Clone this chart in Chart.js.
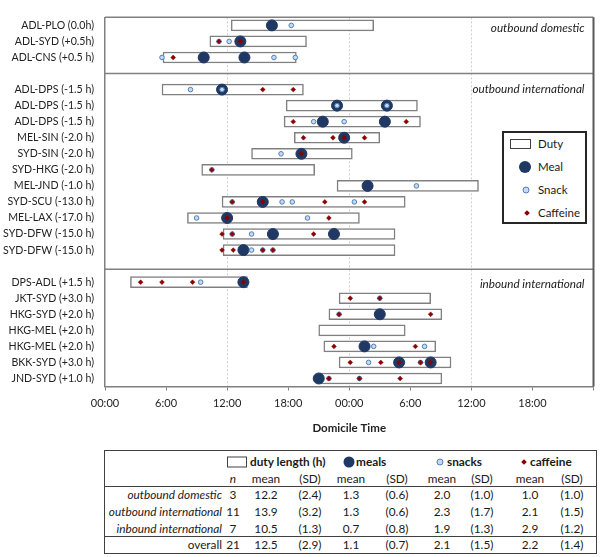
<!DOCTYPE html>
<html>
<head>
<meta charset="utf-8">
<script src="https://cdn.jsdelivr.net/npm/chart.js@4.4.1/dist/chart.umd.min.js"></script>
<style>
  body { margin: 0; background: #fff; font-family: Lato, "Open Sans", sans-serif; color: #1a1a1a; }
  #wrap { position: relative; width: 600px; height: 557px; overflow: hidden; }
  #chart { position: absolute; left: 0; top: 0; }
  .legend { position: absolute; left: 502px; top: 131px; width: 85px; height: 93px; box-sizing: border-box; border: 2px solid #262626; background: #fff; }
  .legend .txt { position: absolute; left: 34px; font-size: 11.5px; transform: translateY(-50%); line-height: 1; }
  .ico { position: absolute; box-sizing: border-box; transform: translate(-50%, -50%); }
  .ico.duty { width: 21px; height: 10px; border: 1.5px solid #404040; background: #fff; transform: translateY(-50%); }
  .ico.meal { border-radius: 50%; background: #1f3864; }
  .ico.snack { border-radius: 50%; background: #c6d9f1; border: 1.2px solid #4f81bd; }
  .ico.caff { background: #8b0000; transform: translate(-50%, -50%) rotate(45deg); }
  .cell { position: absolute; font-size: 11.8px; line-height: 1; white-space: nowrap; }
  .c { transform: translate(-50%, -50%); }
  .r { transform: translateY(-50%); text-align: right; }
  .l { transform: translateY(-50%); }
  .tbox { position: absolute; left: 104px; top: 450px; width: 493px; height: 104px; box-sizing: border-box; border: 1.5px solid #404040; }
  .hline { position: absolute; left: 104px; width: 493px; height: 0; border-top: 1.5px solid #404040; }
</style>
</head>
<body>
<div id="wrap">
  <canvas id="chart" width="600" height="440"></canvas>
  <div class="legend">
    <div class="ico duty" style="left:6px; top:11px"></div><div class="txt" style="top:11px">Duty</div>
    <div class="ico meal" style="left:21px; top:34px; width:12px; height:12px"></div><div class="txt" style="top:34px">Meal</div>
    <div class="ico snack" style="left:22px; top:57px; width:7px; height:7px"></div><div class="txt" style="top:57px">Snack</div>
    <div class="ico caff" style="left:23px; top:80px; width:4px; height:4px"></div><div class="txt" style="top:80px">Caffeine</div>
  </div>
  <div class="tbox"></div>
  <div class="hline" style="top:485.5px"></div>
  <div class="hline" style="top:535.8px"></div>
  <div id="table"></div>
</div>
<script>
// rows of the chart, '' = gap between groups
const routes = [
  "ADL-PLO (0.0h)", "ADL-SYD (+0.5h)", "ADL-CNS (+0.5 h)", "",
  "ADL-DPS (-1.5 h)", "ADL-DPS (-1.5 h)", "ADL-DPS (-1.5 h)", "MEL-SIN (-2.0 h)",
  "SYD-SIN (-2.0 h)", "SYD-HKG (-2.0 h)", "MEL-JND (-1.0 h)", "SYD-SCU (-13.0 h)",
  "MEL-LAX (-17.0 h)", "SYD-DFW (-15.0 h)", "SYD-DFW (-15.0 h)", "",
  "DPS-ADL (+1.5 h)", "JKT-SYD (+3.0 h)", "HKG-SYD (+2.0 h)", "HKG-MEL (+2.0 h)",
  "HKG-MEL (+2.0 h)", "BKK-SYD (+3.0 h)", "JND-SYD (+1.0 h)"
];
// duty start / end, hours from domicile midnight
const dutyStart = [12.4, 10.3, 5.7, null, 5.6, 17.8, 17.6, 18.6, 14.4, 9.5, 22.8, 11.5, 8.1, 11.6, 11.6, null, 2.5, 23.0, 22.0, 21.0, 21.5, 23.0, 21.1];
const dutyEnd = [26.4, 19.8, 18.8, null, 19.5, 30.7, 31.0, 27.0, 24.3, 20.6, 36.7, 29.5, 25.0, 28.5, 28.5, null, 14.0, 32.0, 33.1, 29.5, 32.5, 34.0, 33.1];
const mealTimes = [
  [16.4], [13.3], [9.7, 13.7], [],
  [11.5], [22.8, 27.7], [21.4, 27.5], [23.5], [19.3], [], [25.8], [15.5], [12.0], [16.5, 22.5], [13.6], [],
  [13.6], [], [27.0], [], [25.5], [28.9, 32.0], [21.0]
];
const snackTimes = [
  [18.3], [11.2, 12.2], [5.6, 16.6, 18.7], [],
  [8.4, 11.5], [22.8, 27.7], [20.5, 23.5], [], [17.3], [10.5], [30.6], [12.5, 17.4, 18.4, 24.5], [9.0, 19.9], [12.5, 14.4], [14.4, 15.5, 16.5], [],
  [9.4], [27.0], [23.0], [], [26.4, 31.4], [25.9, 31.0], [22.0, 25.0]
];
const caffeineTimes = [
  [], [11.2, 13.3], [6.7], [],
  [15.5, 18.5], [], [18.5, 29.6], [19.5, 22.4, 23.5, 25.5], [19.3], [10.5], [], [12.5, 15.5, 21.6, 25.5], [12.0, 22.0], [11.5, 12.5, 20.5], [11.5, 12.6, 15.5, 16.5], [],
  [3.5, 5.6, 8.6, 13.6], [24.1, 27.0], [23.0, 32.0], [], [22.5, 30.5], [24.1, 27.1, 28.9, 31.0, 32.0], [22.0, 25.0, 29.0]
];
const hourTicks = [0, 6, 12, 18, 24, 30, 36, 42, 48];
const tickLabels = ["00:00", "6:00", "12:00", "18:00", "00:00", "6:00", "12:00", "18:00", ""];
const groupNames = ["outbound domestic", "outbound international", "inbound international"];
const groupRows = [0.2, 3.95, 16.1];
const dividerRows = [3, 15.2];

// summary table
const tableGroups = ["outbound domestic", "outbound international", "inbound international", "overall"];
const tableN = ["3", "11", "7", "21"];
const dutyMean = ["12.2", "13.9", "10.5", "12.5"];
const dutySD = ["(2.4)", "(3.2)", "(1.3)", "(2.9)"];
const mealMean = ["1.3", "1.3", "0.7", "1.1"];
const mealSD = ["(0.6)", "(0.6)", "(0.8)", "(0.7)"];
const snackMean = ["2.0", "2.3", "1.9", "2.1"];
const snackSD = ["(1.0)", "(1.7)", "(1.3)", "(1.5)"];
const caffMean = ["1.0", "2.1", "2.9", "2.2"];
const caffSD = ["(1.0)", "(1.5)", "(1.2)", "(1.4)"];

function pointsFrom(times) {
  const pts = [];
  times.forEach((list, i) => list.forEach((t) => pts.push({ x: t, y: i })));
  return pts;
}

const dutyBars = [];
routes.forEach((r, i) => {
  if (dutyStart[i] != null) dutyBars.push({ y: i, x: [dutyStart[i], dutyEnd[i]] });
});

const framePlugin = {
  id: "frame",
  beforeDatasetsDraw(chart) {
    const { ctx, chartArea, scales } = chart;
    ctx.save();
    ctx.strokeStyle = "#808080";
    ctx.lineWidth = 1.5;
    dividerRows.forEach((v) => {
      const y = scales.y.getPixelForValue(v);
      ctx.beginPath();
      ctx.moveTo(chartArea.left, y);
      ctx.lineTo(chartArea.right, y);
      ctx.stroke();
    });
    ctx.beginPath();
    ctx.moveTo(chartArea.left, chartArea.top);
    ctx.lineTo(chartArea.right, chartArea.top);
    ctx.stroke();
    ctx.strokeStyle = "#595959";
    ctx.lineWidth = 2;
    ctx.beginPath();
    ctx.moveTo(chartArea.right, chartArea.top);
    ctx.lineTo(chartArea.right, chartArea.bottom);
    ctx.stroke();
    ctx.fillStyle = "#1a1a1a";
    ctx.font = "italic 11.7px Lato, sans-serif";
    ctx.textAlign = "right";
    ctx.textBaseline = "middle";
    groupNames.forEach((g, i) => {
      ctx.fillText(g, chartArea.right - 9, scales.y.getPixelForValue(groupRows[i]));
    });
    ctx.restore();
  }
};

Chart.defaults.font.family = "Lato, 'Open Sans', sans-serif";

new Chart(document.getElementById("chart"), {
  type: "bar",
  data: {
    datasets: [
      {
        type: "scatter",
        label: "Caffeine",
        data: pointsFrom(caffeineTimes),
        pointStyle: "rectRot",
        radius: 2.4,
        backgroundColor: "#8b0000",
        borderColor: "#8b0000",
        borderWidth: 0.5,
        order: 0
      },
      {
        type: "scatter",
        label: "Snack",
        data: pointsFrom(snackTimes),
        pointStyle: "circle",
        radius: 2.3,
        backgroundColor: "#c6d9f1",
        borderColor: "#4f81bd",
        borderWidth: 1,
        order: 1
      },
      {
        type: "scatter",
        label: "Meal",
        data: pointsFrom(mealTimes),
        pointStyle: "circle",
        radius: 5.5,
        backgroundColor: "#1f3864",
        borderColor: "#1f3864",
        borderWidth: 1,
        order: 2
      },
      {
        type: "bar",
        label: "Duty",
        indexAxis: "y",
        data: dutyBars,
        backgroundColor: "#ffffff",
        borderColor: "#808080",
        borderWidth: 1.5,
        borderSkipped: false,
        barThickness: 11,
        order: 3
      }
    ]
  },
  options: {
    responsive: false,
    animation: false,
    events: [],
    layout: { padding: { top: 4.5, right: 3, bottom: 0, left: 0 } },
    plugins: { legend: { display: false }, tooltip: { enabled: false } },
    scales: {
      x: {
        type: "linear",
        min: 0,
        max: 48,
        offset: false,
        afterBuildTicks: (s) => { s.ticks = hourTicks.map((v) => ({ value: v })); },
        afterFit: (s) => { s.height = 53.5; },
        ticks: {
          callback: (v, i) => tickLabels[i],
          autoSkip: false,
          maxRotation: 0,
          padding: 6,
          color: "#222",
          font: { size: 11 }
        },
        grid: {
          offset: false,
          color: (c) => (c.tick && c.tick.value % 12 === 0 && c.tick.value > 0 && c.tick.value < 48 ? "#cfcfcf" : "transparent"),
          lineWidth: 1,
          tickLength: 4,
          tickColor: "#808080",
          tickWidth: 1
        },
        border: { color: "#808080", width: 1.5, dash: [2, 2] },
        title: {
          display: true,
          text: "Domicile Time",
          color: "#222",
          font: { size: 11.5, weight: "bold" },
          padding: { top: 0, bottom: 5 }
        }
      },
      y: {
        type: "linear",
        min: -0.5,
        max: routes.length - 0.5,
        reverse: true,
        offset: false,
        afterBuildTicks: (s) => { s.ticks = routes.map((r, i) => ({ value: i })); },
        afterFit: (s) => { s.width = 105; },
        ticks: {
          callback: (v) => routes[v],
          autoSkip: false,
          padding: 11,
          color: "#222",
          font: { size: 10.6 }
        },
        grid: { display: false, drawTicks: false, offset: false },
        border: { color: "#808080", width: 1.5 }
      }
    }
  },
  plugins: [framePlugin]
});

// summary table below the chart
const table = document.getElementById("table");
const colX = [233, 266, 310, 351, 397, 442, 482, 530, 572];
const rowY = [495.3, 512, 528.7, 544.7];

function addCell(text, x, y, cls, style) {
  const d = document.createElement("div");
  d.className = "cell " + cls;
  d.textContent = text;
  d.style.top = y + "px";
  if (cls === "r") d.style.right = 600 - x + "px";
  else d.style.left = x + "px";
  if (style) d.style.cssText += style;
  table.appendChild(d);
}
function addIcon(cls, x, y, w, h) {
  const d = document.createElement("div");
  d.className = "ico " + cls;
  d.style.left = x + "px";
  d.style.top = y + "px";
  d.style.width = w + "px";
  d.style.height = h + "px";
  table.appendChild(d);
}

addIcon("duty", 227, 462, 20, 11);
addCell("duty length (h)", 250, 462, "l", "font-weight:bold");
addIcon("meal", 349, 462, 11, 11);
addCell("meals", 356, 462, "l", "font-weight:bold");
addIcon("snack", 439.5, 462, 7, 7);
addCell("snacks", 447, 462, "l", "font-weight:bold");
addIcon("caff", 524, 462, 4, 4);
addCell("caffeine", 530, 462, "l", "font-weight:bold");

const subHeads = ["n", "mean", "(SD)", "mean", "(SD)", "mean", "(SD)", "mean", "(SD)"];
subHeads.forEach((h, j) => addCell(h, colX[j], 478.7, "c", j === 0 ? "font-style:italic" : ""));

tableGroups.forEach((g, i) => {
  addCell(g, 222, rowY[i], "r", i < 3 ? "font-style:italic" : "");
  const vals = [tableN[i], dutyMean[i], dutySD[i], mealMean[i], mealSD[i], snackMean[i], snackSD[i], caffMean[i], caffSD[i]];
  vals.forEach((v, j) => addCell(v, colX[j], rowY[i], "c"));
});
</script>
</body>
</html>
